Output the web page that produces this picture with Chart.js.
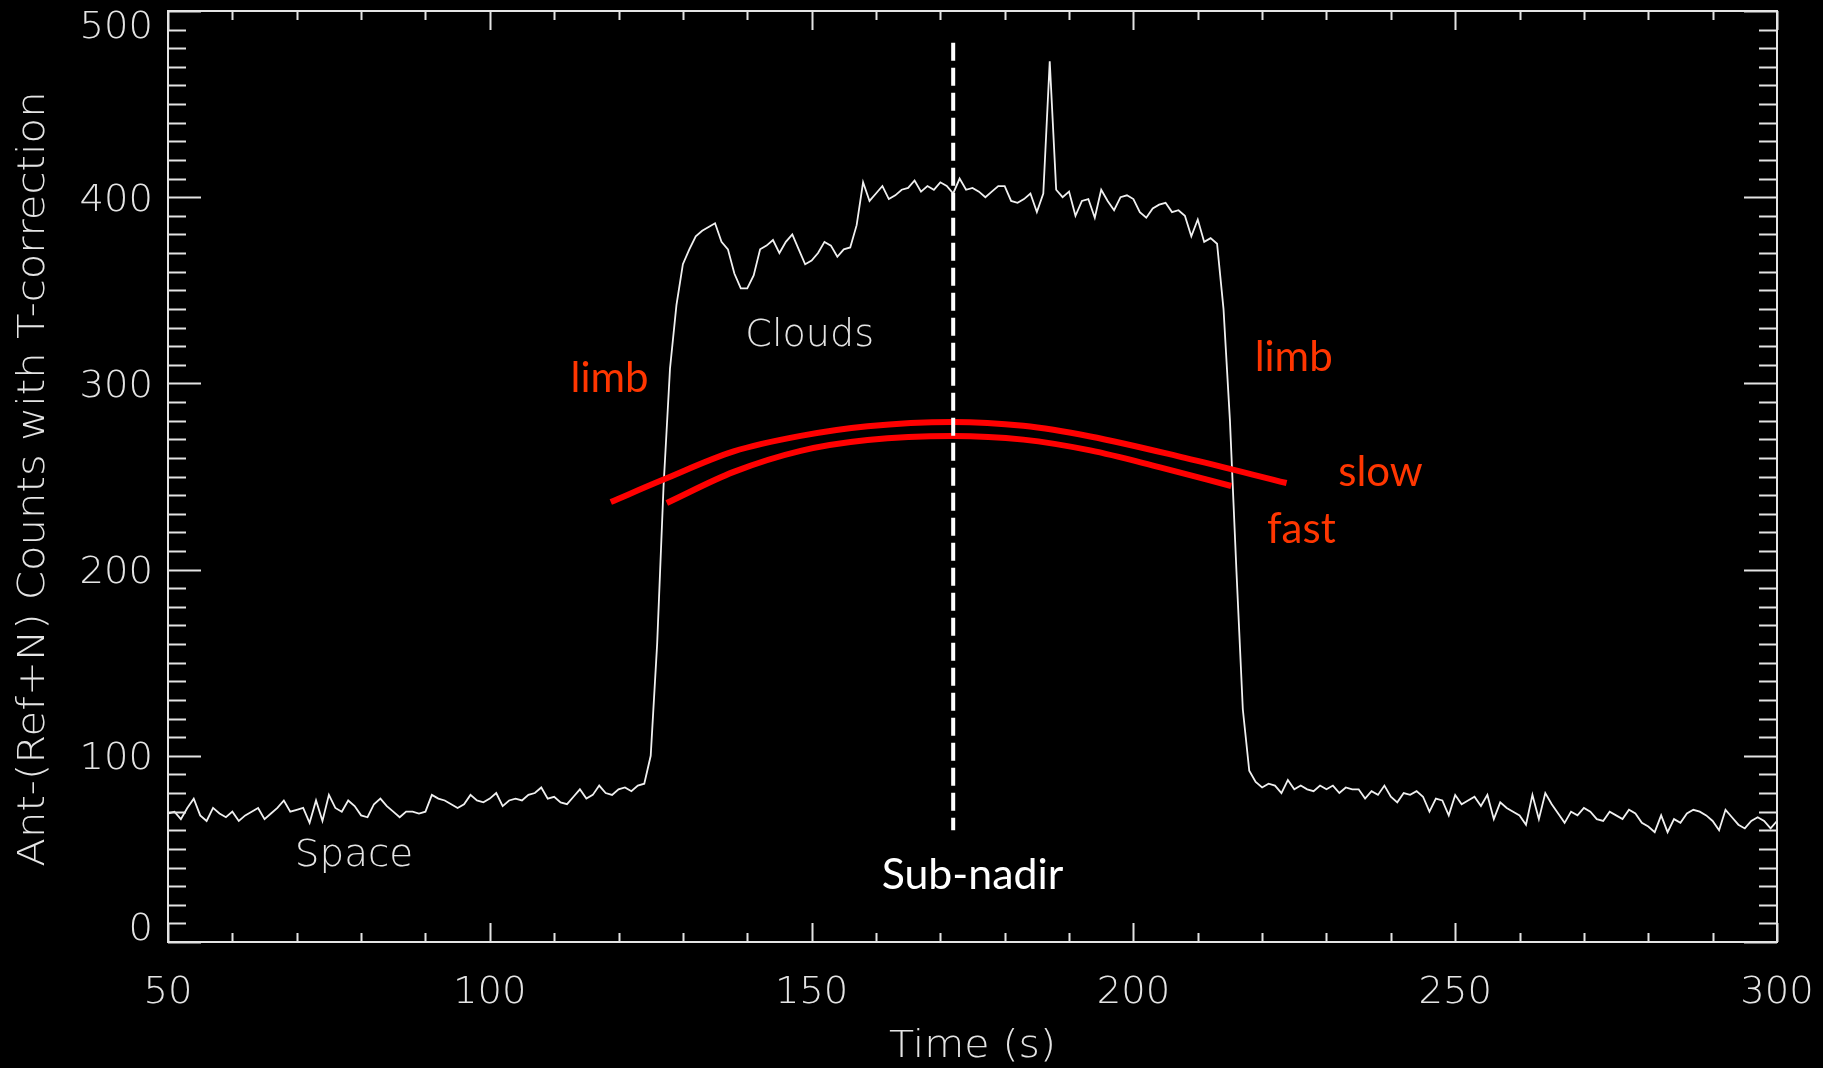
<!DOCTYPE html>
<html>
<head>
<meta charset="utf-8">
<title>Ant-(Ref+N) Counts with T-correction</title>
<script src="https://cdn.jsdelivr.net/npm/chart.js@4.4.1/dist/chart.umd.min.js"></script>
<style>
    html, body { margin: 0; padding: 0; background: #000; }
    #wrap { width: 1823px; height: 1068px; }
</style>
</head>
<body>
<div id="wrap"><canvas id="scanChart" width="1823" height="1068"></canvas></div>
<script>
(function scan () {
    'use strict';

    // time (s) of each sample of the white trace
    var times = [
        50, 51, 52, 53, 54, 55, 56, 57, 58, 59,
        60, 61, 62, 63, 64, 65, 66, 67, 68, 69,
        70, 71, 72, 73, 74, 75, 76, 77, 78, 79,
        80, 81, 82, 83, 84, 85, 86, 87, 88, 89,
        90, 91, 92, 93, 94, 95, 96, 97, 98, 99,
        100, 101, 102, 103, 104, 105, 106, 107, 108, 109,
        110, 111, 112, 113, 114, 115, 116, 117, 118, 119,
        120, 121, 122, 123, 124, 125, 126, 127, 128, 129,
        130, 131, 132, 133, 134, 135, 136, 137, 138, 139,
        140, 141, 142, 143, 144, 145, 146, 147, 148, 149,
        150, 151, 152, 153, 154, 155, 156, 157, 158, 159,
        160, 161, 162, 163, 164, 165, 166, 167, 168, 169,
        170, 171, 172, 173, 174, 175, 176, 177, 178, 179,
        180, 181, 182, 183, 184, 185, 186, 187, 188, 189,
        190, 191, 192, 193, 194, 195, 196, 197, 198, 199,
        200, 201, 202, 203, 204, 205, 206, 207, 208, 209,
        210, 211, 212, 213, 214, 215, 216, 217, 218, 219,
        220, 221, 222, 223, 224, 225, 226, 227, 228, 229,
        230, 231, 232, 233, 234, 235, 236, 237, 238, 239,
        240, 241, 242, 243, 244, 245, 246, 247, 248, 249,
        250, 251, 252, 253, 254, 255, 256, 257, 258, 259,
        260, 261, 262, 263, 264, 265, 266, 267, 268, 269,
        270, 271, 272, 273, 274, 275, 276, 277, 278, 279,
        280, 281, 282, 283, 284, 285, 286, 287, 288, 289,
        290, 291, 292, 293, 294, 295, 296, 297, 298, 299,
        300
    ];
    // Ant-(Ref+N) counts
    var counts = [
        69, 70, 66, 72, 77, 68, 65, 72, 69, 67,
        70, 65, 68, 70, 72, 66, 69, 72, 76, 70,
        71, 72, 64, 76, 65, 79, 72, 70, 76, 73,
        68, 67, 74, 77, 73, 70, 67, 70, 70, 69,
        70, 79, 77, 76, 74, 72, 74, 79, 76, 75,
        77, 80, 73, 76, 77, 76, 79, 80, 83, 77,
        78, 75, 74, 78, 82, 77, 79, 84, 80, 79,
        82, 83, 81, 84, 85, 100, 160, 245, 308, 342,
        364, 372, 379, 382, 384, 386, 376, 372, 359, 351,
        351, 358, 372, 374, 377, 370, 376, 380, 372, 364,
        366, 370, 376, 374, 368, 372, 373, 385, 408, 398,
        402, 406, 399, 401, 404, 405, 409, 403, 406, 404,
        408, 406, 402, 410, 404, 405, 403, 400, 403, 406,
        406, 398, 397, 399, 402, 392, 402, 473, 404, 400,
        403, 390, 398, 399, 389, 404, 398, 393, 400, 401,
        399, 392, 389, 394, 396, 397, 392, 393, 390, 379,
        388, 376, 378, 375, 340, 280, 200, 125, 92, 86,
        83, 85, 84, 80, 87, 82, 84, 82, 81, 84,
        82, 84, 80, 83, 82, 82, 77, 81, 79, 84,
        78, 75, 80, 79, 81, 78, 70, 77, 76, 68,
        79, 74, 76, 78, 73, 79, 66, 75, 72, 70,
        68, 63, 79, 66, 80, 74, 69, 64, 70, 68,
        72, 70, 66, 65, 70, 68, 66, 71, 69, 64,
        62, 59, 68, 59, 66, 64, 69, 71, 70, 68,
        65, 60, 71, 67, 63, 61, 65, 67, 65, 61,
        65
    ];
    // the two hand-drawn red arcs
    var slowArcTimes = [118.8, 126.8, 137.9, 148.3, 158.7, 171.9, 182.9, 193.3, 208.0, 223.8];
    var slowArcCounts = [236.3, 248.1, 263.5, 271.8, 277.0, 279.3, 277.2, 271.5, 260.0, 246.5];
    var fastArcTimes = [127.5, 137.9, 148.3, 158.7, 171.9, 182.9, 193.3, 204.0, 215.2];
    var fastArcCounts = [235.8, 252.5, 263.8, 269.6, 271.8, 269.8, 264.0, 255.0, 244.9];
    // dashed sub-nadir marker
    var nadirTimes = [172, 172];
    var nadirCounts = [483, 60];
    var xTickLabels = [50, 100, 150, 200, 250, 300];
    var yTickLabels = [0, 100, 200, 300, 400, 500];

    var axisColour = '#e4e4e4';
    var redText = '#ff3600';
    var idlFont = '200 37px "DejaVu Sans"';
    var slideFont = '42px Lato';

    var notes = [
        { text: 'Space', x: 78.9, y: 45.8, font: idlFont, colour: axisColour, stretch: 1.05 },
        { text: 'Clouds', x: 149.7, y: 325.5, font: idlFont, colour: axisColour, stretch: 1.03 },
        { text: 'Sub-nadir', x: 175, y: 35.8, font: slideFont, colour: '#ffffff', stretch: 1.02 },
        { text: 'limb', x: 118.6, y: 302.4, font: slideFont, colour: redText, stretch: 1 },
        { text: 'limb', x: 224.9, y: 314.2, font: slideFont, colour: redText, stretch: 1 },
        { text: 'slow', x: 238.4, y: 252.4, font: slideFont, colour: redText, stretch: 1 },
        { text: 'fast', x: 226.1, y: 221.8, font: slideFont, colour: redText, stretch: 1 }
    ];

    function points (xs, ys) {
        return xs.map(function (x, i) {
            return { x: x, y: ys[i] };
        });
    }

    function line (ctx, x1, y1, x2, y2) {
        ctx.beginPath();
        ctx.moveTo(x1, y1);
        ctx.lineTo(x2, y2);
        ctx.stroke();
    }

    // centred text, widened sideways
    function wideText (ctx, text, x, y, stretch) {
        ctx.save();
        ctx.translate(x, y);
        ctx.scale(stretch, 1);
        ctx.fillText(text, 0, 0);
        ctx.restore();
    }

    // IDL style frame: box with inward ticks on all four sides
    var idlAxes = {
        id: 'idlAxes',
        afterDraw: function drawAxes (chart) {
            var ctx = chart.ctx;
            var area = chart.chartArea;
            var xs = chart.scales.x;
            var ys = chart.scales.y;

            ctx.save();
            ctx.strokeStyle = axisColour;
            ctx.lineWidth = 2;
            ctx.strokeRect(area.left, area.top, area.right - area.left, area.bottom - area.top);

            xs.ticks.forEach(function (tick) {
                var px = Math.round(xs.getPixelForValue(tick.value)) + 0.5;
                var len = tick.value % 50 === 0 ? 19 : 9;
                line(ctx, px, area.bottom, px, area.bottom - len);
                line(ctx, px, area.top, px, area.top + len);
            });
            ys.ticks.forEach(function (tick) {
                var py = Math.round(ys.getPixelForValue(tick.value)) + 0.5;
                var len = tick.value % 100 === 0 ? 33 : 18;
                line(ctx, area.left, py, area.left + len, py);
                line(ctx, area.right, py, area.right - len, py);
            });

            ctx.fillStyle = axisColour;
            ctx.font = idlFont;
            ctx.textAlign = 'center';
            ctx.textBaseline = 'middle';
            xTickLabels.forEach(function (v) {
                wideText(ctx, String(v), xs.getPixelForValue(v), area.bottom + 51, 1.04);
            });
            ctx.textAlign = 'right';
            yTickLabels.forEach(function (v) {
                var py = ys.getPixelForValue(v) + 4;
                py = Math.min(Math.max(py, area.top + 17), area.bottom - 12);
                wideText(ctx, String(v), area.left - 15, py, 1.04);
            });

            ctx.textAlign = 'center';
            wideText(ctx, 'Time (s)', (area.left + area.right) / 2, 1047, 1.11);
            ctx.translate(34, 479);
            ctx.rotate(-Math.PI / 2);
            wideText(ctx, 'Ant-(Ref+N) Counts with T-correction', 0, 0, 1.13);
            ctx.restore();

            ctx.save();
            ctx.textAlign = 'center';
            ctx.textBaseline = 'middle';
            notes.forEach(function (n) {
                ctx.font = n.font;
                ctx.fillStyle = n.colour;
                wideText(ctx, n.text, xs.getPixelForValue(n.x), ys.getPixelForValue(n.y), n.stretch);
            });
            ctx.restore();
        }
    };

    var ctx = document.getElementById('scanChart').getContext('2d');

    new Chart(ctx, {
        type: 'line',
        data: {
            labels: times,
            datasets: [{
                label: 'sub-nadir',
                data: points(nadirTimes, nadirCounts),
                borderColor: '#ffffff',
                borderWidth: 4,
                borderDash: [18, 7],
                pointRadius: 0,
                order: 0
            }, {
                label: 'slow',
                data: points(slowArcTimes, slowArcCounts),
                borderColor: '#ff0000',
                borderWidth: 6,
                cubicInterpolationMode: 'monotone',
                pointRadius: 0,
                order: 1
            }, {
                label: 'fast',
                data: points(fastArcTimes, fastArcCounts),
                borderColor: '#ff0000',
                borderWidth: 6,
                cubicInterpolationMode: 'monotone',
                pointRadius: 0,
                order: 2
            }, {
                label: 'counts',
                data: counts,
                borderColor: '#f0f0f0',
                borderWidth: 1.8,
                pointRadius: 0,
                tension: 0,
                order: 3
            }]
        },
        options: {
            responsive: false,
            animation: false,
            devicePixelRatio: 1,
            layout: {
                padding: { left: 168, top: 11, right: 46, bottom: 126 }
            },
            plugins: {
                legend: { display: false },
                tooltip: { enabled: false }
            },
            scales: {
                x: {
                    type: 'linear',
                    min: 50,
                    max: 300,
                    ticks: { display: false, stepSize: 10 },
                    grid: { display: false, drawTicks: false },
                    border: { display: false }
                },
                y: {
                    type: 'linear',
                    min: 0,
                    max: 500,
                    ticks: { display: false, stepSize: 10 },
                    grid: { display: false, drawTicks: false },
                    border: { display: false }
                }
            }
        },
        plugins: [idlAxes]
    });
}());
</script>
</body>
</html>
